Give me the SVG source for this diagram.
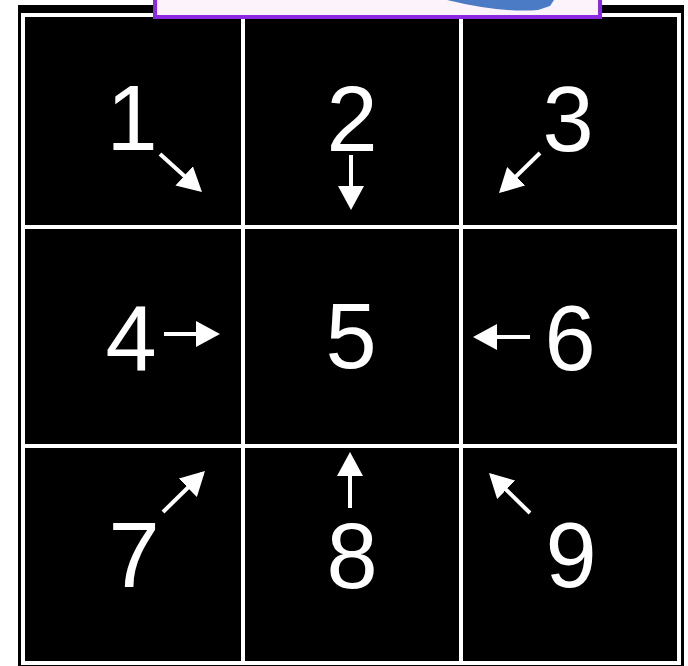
<svg xmlns="http://www.w3.org/2000/svg" width="688" height="666" viewBox="0 0 688 666">
<style>
.digit{font-family:"Liberation Sans",Arial,sans-serif;font-size:92px;fill:#fff;text-anchor:middle}
.grid{stroke:#fff;stroke-width:4;fill:none}
.arr{stroke:#fff;stroke-width:4;fill:none;marker-end:url(#ah)}
</style>
<defs>
<marker id="ah" viewBox="0 0 24 26" refX="20" refY="13" markerWidth="24" markerHeight="26" markerUnits="userSpaceOnUse" orient="auto">
<path d="M0,0 L24,13 L0,26 z" fill="#fff"/>
</marker>
</defs>
<rect width="688" height="666" fill="#fff"/>
<rect id="frame" x="18" y="5" width="666" height="661" fill="#000"/>
<g id="gridlines" class="grid">
<rect x="23" y="15" width="656" height="648"/>
<line x1="243" y1="15" x2="243" y2="663"/>
<line x1="461" y1="15" x2="461" y2="663"/>
<line x1="23" y1="227" x2="679" y2="227"/>
<line x1="23" y1="446" x2="679" y2="446"/>
</g>
<g id="banner">
<rect x="155" y="-4" width="445" height="21" fill="#fdf4fb" stroke="#8a2be2" stroke-width="4"/>
<path d="M447,0 Q500,13 538,10 L550,6 L554,0 Z" fill="#4a7bc4"/>
</g>
<g id="n1"><text class="digit" x="132" y="150">1</text></g>
<g id="n2"><text class="digit" x="352" y="151">2</text></g>
<g id="n3"><text class="digit" x="568" y="151">3</text></g>
<g id="n4"><text class="digit" x="131" y="370">4</text></g>
<g id="n5"><text class="digit" x="351" y="368">5</text></g>
<g id="n6"><text class="digit" x="570" y="370">6</text></g>
<g id="n7"><text class="digit" x="134" y="587">7</text></g>
<g id="n8"><text class="digit" x="352" y="588">8</text></g>
<g id="n9"><text class="digit" x="571" y="587">9</text></g>
<g id="connectors">
<line class="arr" x1="160" y1="154" x2="199" y2="189.3"/>
<line class="arr" x1="351" y1="155" x2="351" y2="206"/>
<line class="arr" x1="540" y1="153" x2="501.9" y2="190.2"/>
<line class="arr" x1="164" y1="334" x2="216" y2="334"/>
<line class="arr" x1="530" y1="337" x2="477" y2="337"/>
<line class="arr" x1="163" y1="512" x2="202.1" y2="473.8"/>
<line class="arr" x1="350" y1="508" x2="350" y2="456"/>
<line class="arr" x1="530" y1="513" x2="491.9" y2="475.8"/>
</g>
</svg>
